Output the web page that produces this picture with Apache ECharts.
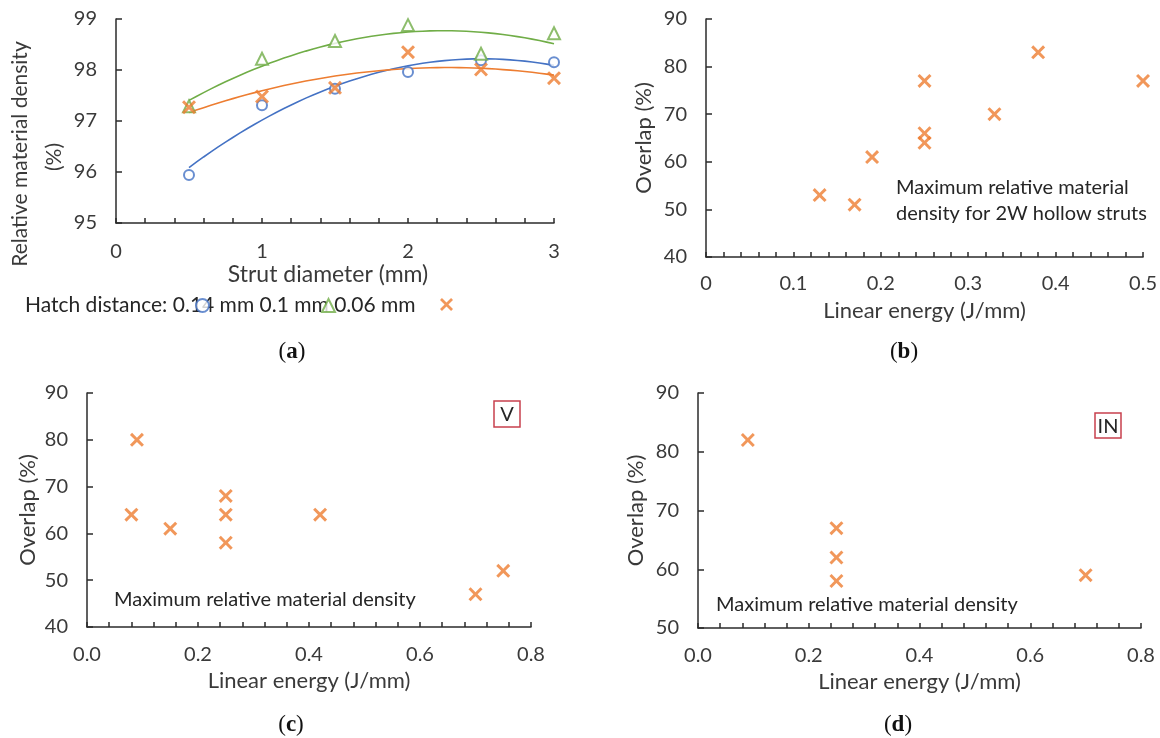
<!DOCTYPE html>
<html>
<head>
<meta charset="utf-8">
<script src="https://cdn.jsdelivr.net/npm/echarts@6/dist/echarts.min.js"></script>
<style>
  html, body { margin: 0; padding: 0; background: #ffffff; }
  #chart { width: 1160px; height: 738px; }
</style>
</head>
<body>
<div id="chart"></div>
<script>
// ---- Panel (a): relative material density vs strut diameter ----
const strutDiameter = [0.5, 1, 1.5, 2, 2.5, 3];
const density014 = [95.94, 97.31, 97.63, 97.96, 98.19, 98.15];
const density010 = [97.29, 98.22, 98.57, 98.88, 98.32, 98.72];
const density006 = [97.27, 97.48, 97.65, 98.35, 98.01, 97.84];
const hatchNames = ['0.14 mm', '0.1 mm', '0.06 mm'];

// ---- Panel (b): 2W hollow struts ----
const energyB = [0.13, 0.17, 0.19, 0.25, 0.25, 0.25, 0.33, 0.38, 0.5];
const overlapB = [53, 51, 61, 77, 66, 64, 70, 83, 77];

// ---- Panel (c): V ----
const energyC = [0.09, 0.08, 0.15, 0.25, 0.25, 0.25, 0.42, 0.70, 0.75];
const overlapC = [80, 64, 61, 68, 64, 58, 64, 47, 52];

// ---- Panel (d): IN ----
const energyD = [0.09, 0.25, 0.25, 0.25, 0.70];
const overlapD = [82, 67, 62, 58, 59];

const FONT = 'Lato';
const AXIS_COLOR = '#2b2b2b';
const TEXT_COLOR = '#3a3a3a';
const BLUE = '#4472C4';
const GREEN = '#70AD47';
const ORANGE = '#ED7D31';
const BOX_RED = '#c8404e';

// filled "x" glyph used for the cross markers
const crossPath = 'path://M0,1.5L1.5,0L5,3.5L8.5,0L10,1.5L6.5,5L10,8.5L8.5,10L5,6.5L1.5,10L0,8.5L3.5,5Z';

function pairs(xs, ys) { return xs.map((x, i) => [x, ys[i]]); }

// least-squares second-order polynomial trendline through a series
function quadTrend(xs, ys, from, to, step) {
  let s0 = xs.length, s1 = 0, s2 = 0, s3 = 0, s4 = 0, t0 = 0, t1 = 0, t2 = 0;
  xs.forEach((x, i) => {
    const y = ys[i];
    s1 += x; s2 += x * x; s3 += x * x * x; s4 += x * x * x * x;
    t0 += y; t1 += x * y; t2 += x * x * y;
  });
  const m = [[s4, s3, s2, t2], [s3, s2, s1, t1], [s2, s1, s0, t0]];
  for (let c = 0; c < 3; c++) {
    for (let r = c + 1; r < 3; r++) {
      const f = m[r][c] / m[c][c];
      for (let k = c; k < 4; k++) m[r][k] -= f * m[c][k];
    }
  }
  const coef = [0, 0, 0];
  for (let r = 2; r >= 0; r--) {
    let s = m[r][3];
    for (let k = r + 1; k < 3; k++) s -= m[r][k] * coef[k];
    coef[r] = s / m[r][r];
  }
  const out = [];
  for (let x = from; x <= to + 1e-9; x += step) {
    out.push([x, coef[0] * x * x + coef[1] * x + coef[2]]);
  }
  return out;
}

function xAxisCfg(gridIndex, min, max, interval, opts) {
  return Object.assign({
    gridIndex, type: 'value', min, max, interval,
    nameLocation: 'middle',
    nameTextStyle: { fontFamily: FONT, fontSize: 22, color: TEXT_COLOR },
    axisLine: { show: true, lineStyle: { color: AXIS_COLOR, width: 1.5 } },
    axisTick: { show: true, inside: true, length: 5, lineStyle: { color: AXIS_COLOR, width: 1.5 } },
    minorTick: { show: true, splitNumber: 5, length: 5, lineStyle: { color: AXIS_COLOR, width: 1.5 } },
    splitLine: { show: false },
    minorSplitLine: { show: false },
    axisLabel: { fontFamily: FONT, fontSize: 20, color: TEXT_COLOR, margin: 17 }
  }, opts);
}

function yAxisCfg(gridIndex, min, max, interval, opts) {
  return Object.assign({
    gridIndex, type: 'value', min, max, interval,
    nameLocation: 'middle',
    nameTextStyle: { fontFamily: FONT, fontSize: 22, color: TEXT_COLOR },
    axisLine: { show: true, lineStyle: { color: AXIS_COLOR, width: 1.5 } },
    axisTick: { show: true, inside: true, length: 6, lineStyle: { color: AXIS_COLOR, width: 1.5 } },
    splitLine: { show: false },
    axisLabel: { fontFamily: FONT, fontSize: 20, color: TEXT_COLOR, margin: 19 }
  }, opts);
}

function crossSeries(name, xIdx, data) {
  return {
    name, type: 'scatter', xAxisIndex: xIdx, yAxisIndex: xIdx,
    symbol: crossPath, symbolSize: 14,
    itemStyle: { color: ORANGE },
    data
  };
}

function trendSeries(xIdx, color, data) {
  return {
    type: 'line', xAxisIndex: xIdx, yAxisIndex: xIdx,
    showSymbol: false, smooth: false, silent: true,
    lineStyle: { color, width: 1.6 },
    data, z: 1
  };
}

const oneDecimal = v => v.toFixed(1);

const legendIcon = (name, left) => ({
  data: [name], left, top: 298, padding: 0, itemGap: 0,
  itemWidth: 13, itemHeight: 13, selectedMode: false,
  formatter: () => '', textStyle: { fontSize: 1 }
});

const annotation = (x, y, text) => ({
  type: 'text', x, y,
  style: { text, fontFamily: FONT, fontSize: 20, fill: '#262626', textVerticalAlign: 'middle', lineHeight: 26 }
});

const caption = (x, y, letter) => ({
  type: 'text', x, y,
  style: {
    text: '{p|(}{b|' + letter + '}{p|)}',
    textAlign: 'center', textVerticalAlign: 'middle',
    rich: {
      p: { fontFamily: 'Liberation Serif', fontSize: 23, fill: '#111' },
      b: { fontFamily: 'Liberation Serif', fontSize: 23, fontWeight: 'bold', fill: '#111' }
    }
  }
});

const tagBox = (x, y, w, h, label) => ({
  type: 'group', children: [
    { type: 'rect', shape: { x, y, width: w, height: h }, style: { fill: '#fff', stroke: BOX_RED, lineWidth: 1.5 } },
    { type: 'text', x: x + w / 2, y: y + h / 2 + 1,
      style: { text: label, fontFamily: FONT, fontSize: 20, fill: '#262626', textAlign: 'center', textVerticalAlign: 'middle' } }
  ]
});

const option = {
  backgroundColor: '#ffffff',
  animation: false,
  grid: [
    { left: 116, top: 19, width: 438, height: 204 },
    { left: 706, top: 19, width: 438, height: 238 },
    { left: 87, top: 393, width: 444, height: 234 },
    { left: 698, top: 393, width: 443, height: 235 }
  ],
  xAxis: [
    xAxisCfg(0, 0, 3, 1, { name: 'Strut diameter (mm)', nameGap: 39,
      nameTextStyle: { fontFamily: FONT, fontSize: 23, color: TEXT_COLOR, padding: [0, 14, 0, 0] },
      axisLabel: { fontFamily: FONT, fontSize: 20, color: TEXT_COLOR, margin: 19 } }),
    xAxisCfg(1, 0, 0.5, 0.1, { name: 'Linear energy (J/mm)', nameGap: 43 }),
    xAxisCfg(2, 0, 0.8, 0.2, { name: 'Linear energy (J/mm)', nameGap: 43,
      axisLabel: { fontFamily: FONT, fontSize: 20, color: TEXT_COLOR, margin: 18, formatter: oneDecimal } }),
    xAxisCfg(3, 0, 0.8, 0.2, { name: 'Linear energy (J/mm)', nameGap: 43,
      axisLabel: { fontFamily: FONT, fontSize: 20, color: TEXT_COLOR, margin: 18, formatter: oneDecimal } })
  ],
  yAxis: [
    yAxisCfg(0, 95, 99, 1, {}),
    yAxisCfg(1, 40, 90, 10, { name: 'Overlap (%)', nameGap: 51 }),
    yAxisCfg(2, 40, 90, 10, { name: 'Overlap (%)', nameGap: 48 }),
    yAxisCfg(3, 50, 90, 10, { name: 'Overlap (%)', nameGap: 51 })
  ],
  legend: [
    legendIcon(hatchNames[0], 195),
    legendIcon(hatchNames[1], 321),
    legendIcon(hatchNames[2], 440)
  ],
  series: [
    trendSeries(0, BLUE, quadTrend(strutDiameter, density014, 0.5, 3, 0.05)),
    trendSeries(0, GREEN, quadTrend(strutDiameter, density010, 0.5, 3, 0.05)),
    trendSeries(0, ORANGE, quadTrend(strutDiameter, density006, 0.5, 3, 0.05)),
    {
      name: hatchNames[0], type: 'scatter', xAxisIndex: 0, yAxisIndex: 0,
      symbol: 'emptyCircle', symbolSize: 10,
      itemStyle: { color: BLUE, borderColor: BLUE, borderWidth: 2 },
      data: pairs(strutDiameter, density014)
    },
    {
      name: hatchNames[1], type: 'scatter', xAxisIndex: 0, yAxisIndex: 0,
      symbol: 'emptyTriangle', symbolSize: 12,
      itemStyle: { color: GREEN, borderColor: GREEN, borderWidth: 2 },
      data: pairs(strutDiameter, density010)
    },
    crossSeries(hatchNames[2], 0, pairs(strutDiameter, density006)),
    crossSeries('2W hollow struts', 1, pairs(energyB, overlapB)),
    crossSeries('V', 2, pairs(energyC, overlapC)),
    crossSeries('IN', 3, pairs(energyD, overlapD))
  ],
  graphic: [
    // panel (a) y-axis title, two rotated lines
    { type: 'text', x: 20, y: 154, rotation: Math.PI / 2,
      style: { text: 'Relative material density', fontFamily: FONT, fontSize: 21, fill: TEXT_COLOR, textAlign: 'center', textVerticalAlign: 'middle' } },
    { type: 'text', x: 54, y: 157, rotation: Math.PI / 2,
      style: { text: '(%)', fontFamily: FONT, fontSize: 21, fill: TEXT_COLOR, textAlign: 'center', textVerticalAlign: 'middle' } },
    // panel (a) legend caption
    { type: 'text', x: 25, y: 305,
      style: { text: 'Hatch distance: 0.14 mm 0.1 mm 0.06 mm', fontFamily: FONT, fontSize: 21, fill: '#262626', textVerticalAlign: 'middle' } },
    annotation(896, 201, 'Maximum relative material\ndensity for 2W hollow struts'),
    annotation(114, 600, 'Maximum relative material density'),
    annotation(716, 605, 'Maximum relative material density'),
    tagBox(494, 401, 26, 26, 'V'),
    tagBox(1095, 413, 26, 25, 'IN'),
    caption(292, 352, 'a'),
    caption(904, 352, 'b'),
    caption(291, 725, 'c'),
    caption(898, 725, 'd')
  ]
};

const chart = echarts.init(document.getElementById('chart'), null, { renderer: 'canvas' });
chart.setOption(option);
</script>
</body>
</html>
